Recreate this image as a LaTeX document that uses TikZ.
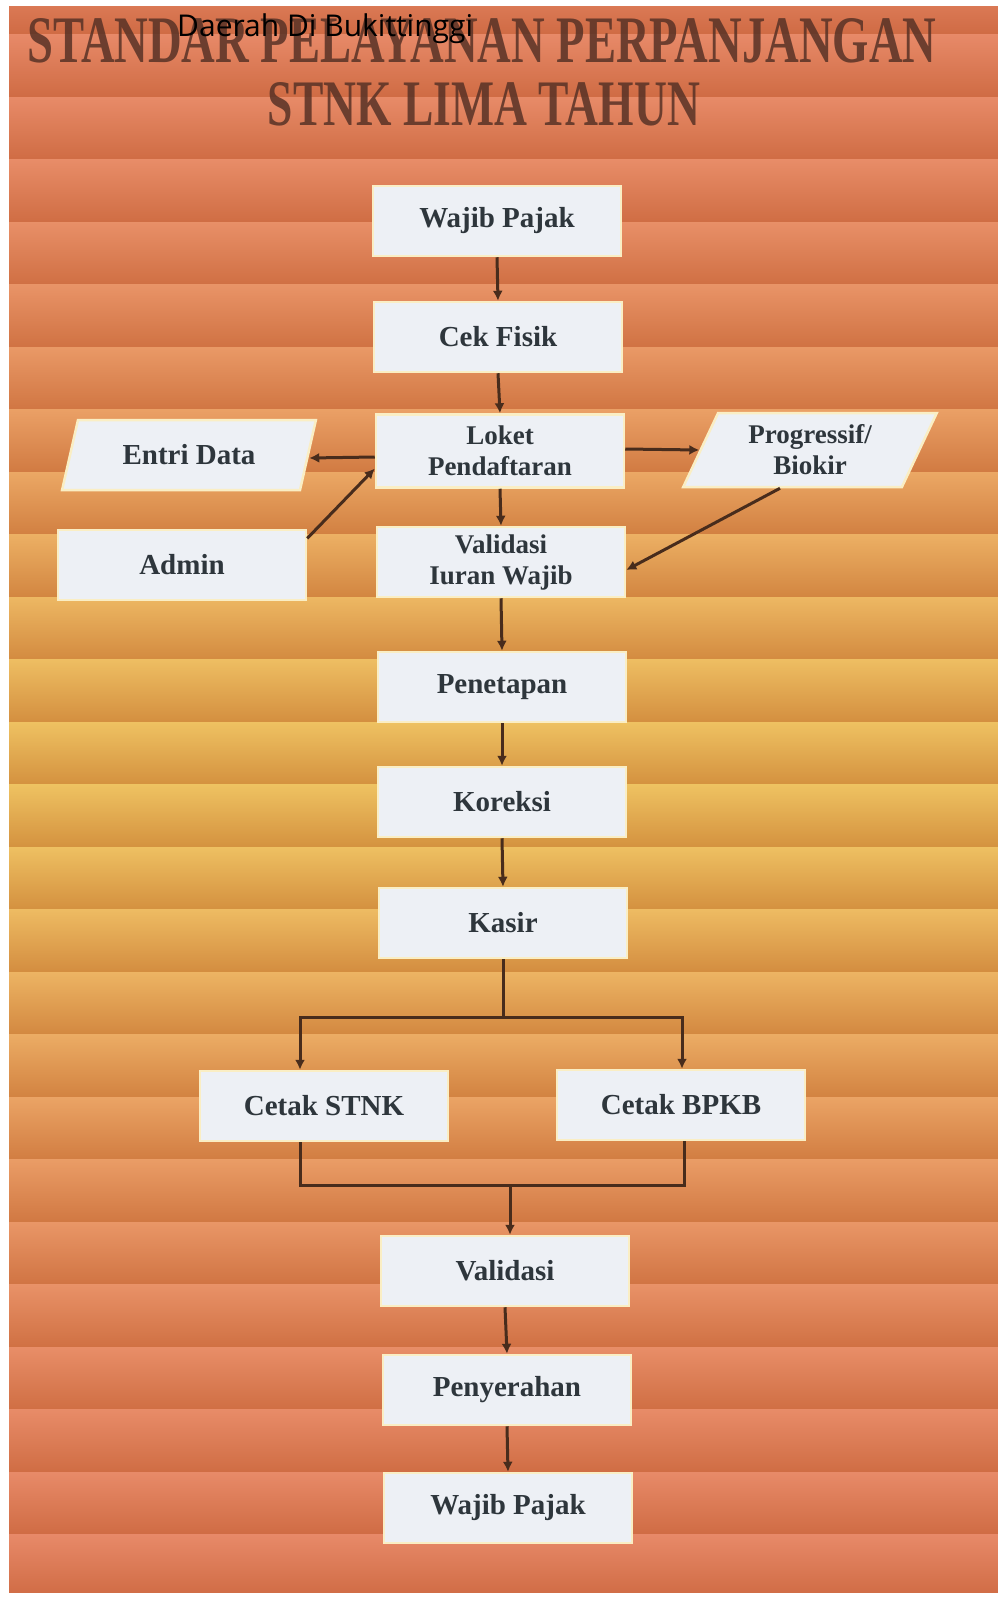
\documentclass[tikz,border=0pt]{standalone}
\usepackage{fontspec}
\usepackage{graphicx}
\setmainfont{Liberation Serif}
\newfontfamily\labelFont{Open Sans}
\usetikzlibrary{positioning, shapes.geometric, arrows.meta}
\definecolor{bgRed}{RGB}{228,120,84}
\definecolor{bgYellow}{RGB}{236,186,76}
\definecolor{bgDark}{RGB}{176,86,44}
\definecolor{boxFill}{RGB}{237,240,245}
\definecolor{boxEdge}{RGB}{250,238,196}
\definecolor{boxText}{RGB}{46,54,60}
\definecolor{lineColor}{RGB}{72,44,28}
\definecolor{titleBrown}{RGB}{88,50,38}
\tikzstyle{stepBox} = [rectangle, fill=boxFill, draw=boxEdge, line width=2.5pt, minimum width=248pt, minimum height=70pt, inner sep=0pt, align=center, text=boxText, font=\fontsize{29}{31}\selectfont\bfseries]
\tikzstyle{twoLine} = [font=\fontsize{27}{31}\selectfont\bfseries]
\tikzstyle{dataBox} = [stepBox, trapezium, trapezium left angle=65, trapezium right angle=115, trapezium stretches=true, minimum width=254pt]
\tikzstyle{flowLine} = [color=lineColor, line width=3pt]
\tikzstyle{flowArrow} = [flowLine, -{Latex[length=10pt, width=10pt]}]
\newcommand{\stepNode}[3]{\node [stepBox] (#1) at #2 {#3};}

\begin{document}
\begin{tikzpicture}[x=1pt, y=-1pt]
  \useasboundingbox (0,0) rectangle (998,1599);
  \fill [white] (0,0) rectangle (998,1599);

  % striped background
  \begin{scope}
    \clip (9,6) rectangle (998,1592);
    \foreach \band in {0,...,26} {
      \pgfmathsetmacro{\bandTop}{-28 + 62.5 * \band}
      \pgfmathsetmacro{\bandMix}{100 * exp(-((\bandTop + 31 - 800) / 380)^2)}
      \colorlet{bandColor}{bgYellow!\bandMix!bgRed}
      \shade [top color=bandColor!88!white, middle color=bandColor, bottom color=bandColor!60!bgDark]
        (9,\bandTop) rectangle (998,\bandTop + 62.5);
    }
  \end{scope}

  % title
  \node [inner sep=0pt, text=titleBrown, opacity=0.85] (titleTop) at (482,41)
    {\resizebox{909pt}{44pt}{\bfseries STANDAR PELAYANAN PERPANJANGAN}};
  \node [inner sep=0pt, text=titleBrown, opacity=0.85] (titleBottom) at (484,104)
    {\resizebox{432pt}{43pt}{\bfseries STNK LIMA TAHUN}};
  \node [inner sep=0pt, anchor=base west, font=\labelFont\fontsize{30}{34}\selectfont] (regionLabel) at (177,36) {Daerah Di Bukittinggi};

  % steps
  \stepNode{wajibTop}{(497,221)}{Wajib Pajak}
  \stepNode{cekFisik}{(498,337)}{Cek Fisik}
  \node [stepBox, twoLine, minimum height=73pt] (loket) at (500,451) {Loket\\Pendaftaran};
  \node [dataBox] (entriData) at (189,455) {Entri Data};
  \node [dataBox, twoLine, minimum height=74pt] (progressif) at (810,450) {Progressif/\\Biokir};
  \stepNode{admin}{(182,565)}{Admin}
  \node [stepBox, twoLine] (validasiIuran) at (501,562) {Validasi\\Iuran Wajib};
  \stepNode{penetapan}{(502,687)}{Penetapan}
  \stepNode{koreksi}{(502,802)}{Koreksi}
  \stepNode{kasir}{(503,923)}{Kasir}
  \stepNode{cetakStnk}{(324,1106)}{Cetak STNK}
  \stepNode{cetakBpkb}{(681,1105)}{Cetak BPKB}
  \stepNode{validasi}{(505,1271)}{Validasi}
  \stepNode{penyerahan}{(507,1390)}{Penyerahan}
  \stepNode{wajibBottom}{(508,1508)}{Wajib Pajak}

  \coordinate (forkPoint) at (503,1017);
  \coordinate (joinPoint) at (510,1185);

  % connectors
  \draw [flowArrow] (wajibTop.south) -- (cekFisik.north);
  \draw [flowArrow] (cekFisik.south) -- (loket.north);
  \draw [flowArrow] ([yshift=-6pt]loket.west) -- ([yshift=-3pt]entriData.east);
  \draw [flowArrow] (admin.12) -- (loket.188);
  \draw [flowArrow] ([yshift=2pt]loket.east) -- (progressif.west);
  \draw [flowArrow] ([xshift=-30pt]progressif.south) -- ([yshift=-8pt]validasiIuran.east);
  \draw [flowArrow] (loket.south) -- (validasiIuran.north);
  \draw [flowArrow] (validasiIuran.south) -- (penetapan.north);
  \draw [flowArrow] (penetapan.south) -- (koreksi.north);
  \draw [flowArrow] (koreksi.south) -- (kasir.north);
  \draw [flowLine] (kasir.south) -- (forkPoint);
  \draw [flowArrow] (forkPoint) -| ([xshift=-24pt]cetakStnk.north);
  \draw [flowArrow] (forkPoint) -| ([xshift=1pt]cetakBpkb.north);
  \draw [flowLine] ([xshift=-24pt]cetakStnk.south) |- (joinPoint) -| ([xshift=3pt]cetakBpkb.south);
  \draw [flowArrow] (joinPoint) -- (joinPoint |- validasi.north);
  \draw [flowArrow] (validasi.south) -- (penyerahan.north);
  \draw [flowArrow] (penyerahan.south) -- (wajibBottom.north);
\end{tikzpicture}
\end{document}
